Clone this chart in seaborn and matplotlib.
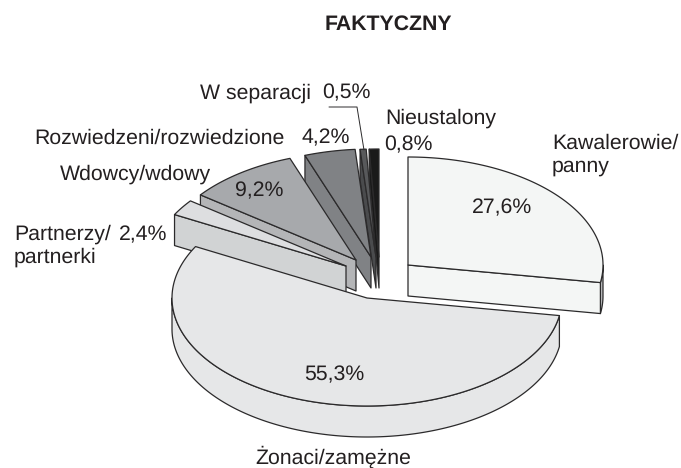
import numpy as np
import matplotlib
matplotlib.use("Agg")
import matplotlib.pyplot as plt
import seaborn as sns

# Data
categories = ["Kawalerowie/\npanny", "Żonaci/zamężne", "Partnerzy/\npartnerki",
              "Wdowcy/wdowy", "Rozwiedzeni/rozwiedzione", "W separacji", "Nieustalony"]
values = [27.6, 55.3, 2.4, 9.2, 4.2, 0.5, 0.8]
title = "FAKTYCZNY"

# Style and layout (pixel space of the 681x468 figure)
top_colors = ["#F4F6F5", "#E6E7E8", "#DDDEE0", "#A7A9AC", "#808285", "#58595B", "#1A1A1A"]
wall_colors = ["#F4F6F5", "#E6E7E8", "#D1D3D4", "#B4B5B7", "#808285", "#4A4B4D", "#1A1A1A"]
rim_colors = ["#BCBEC0", "#E6E7E8", "#D1D3D4", "#B4B5B7", "#808285", "#58595B", "#1A1A1A"]
apex = [(408, 265), (367, 298), (346, 266), (356, 260), (371, 257), (376, 257), (379, 257)]
RX, RY, DEPTH = 195, 108, 31
draw_order = [0, 6, 5, 4, 3, 2, 1]
EDGE = "#2B2A2B"
TXT = "#231F20"
FS = 15.3

sns.set_theme(style="white")
plt.rcParams["font.family"] = ["Liberation Sans", "DejaVu Sans"]
plt.rcParams["text.hinting"] = "no_hinting"

fig = plt.figure(figsize=(6.81, 4.68), dpi=100, facecolor="white")
ax = fig.add_axes([0, 0, 1, 1])
ax.set_xlim(0, 681)
ax.set_ylim(468, 0)
ax.axis("off")
sns.despine(ax=ax, left=True, bottom=True)

bounds = np.concatenate([[0], np.cumsum(values)]) / sum(values) * 360


def rim_point(c, deg):
    t = np.radians(deg)
    return c[0] + RX * np.sin(t), c[1] - RY * np.cos(t)


def arc(c, a, b, dy=0.0):
    t = np.radians(np.linspace(a, b, max(int(abs(b - a) * 2), 2)))
    return c[0] + RX * np.sin(t), c[1] - RY * np.cos(t) + dy


def face(xs, ys, color, z):
    ax.fill(xs, ys, facecolor=color, edgecolor=EDGE, linewidth=0.9, joinstyle="round", zorder=z)


for rank, i in enumerate(draw_order):
    c = apex[i]
    s, e = bounds[i], bounds[i + 1]
    z = 2 + rank
    # outer rim, only the part that faces the viewer
    lo, hi = max(s, 90), min(e, 270)
    if lo < hi:
        x1, y1 = arc(c, lo, hi)
        x2, y2 = arc(c, hi, lo, DEPTH)
        face(np.r_[x1, x2], np.r_[y1, y2], rim_colors[i], z)
    # visible cut faces
    for ang, vis in ((s, 180 < s < 360), (e, 0 < e < 180)):
        if vis:
            px, py = rim_point(c, ang)
            face([c[0], px, px, c[0]], [c[1], py, py + DEPTH, c[1] + DEPTH], wall_colors[i], z)
    # top surface
    x1, y1 = arc(c, s, e)
    face(np.r_[c[0], x1], np.r_[c[1], y1], top_colors[i], z)

pct = [f"{v:.1f}%".replace(".", ",") for v in values]
tk = dict(color=TXT, fontsize=FS, zorder=30, va="center")

ax.text(388, 24, title, color=TXT, fontsize=15.3, fontweight="bold", ha="center", va="center", zorder=30)
ax.text(552, 155, categories[0], linespacing=1.2, ha="left", **tk)
ax.text(502, 208, pct[0], ha="center", **tk)
ax.text(334, 375, pct[1], ha="center", **tk)
ax.text(333, 457, categories[1], ha="center", **tk)
ax.text(14, 246, categories[2], linespacing=1.2, ha="left", **tk)
ax.text(119, 235, pct[2], ha="left", **tk)
ax.text(60, 174, categories[3], ha="left", **tk)
ax.text(259, 191, pct[3], ha="center", **tk)
ax.text(34, 138, categories[4], ha="left", **tk)
ax.text(302, 138, pct[4], ha="left", **tk)
ax.text(200, 93, categories[5], ha="left", **tk)
ax.text(322, 93, pct[5], ha="left", **tk)
ax.text(385, 118, categories[6], ha="left", **tk)
ax.text(384, 145, pct[6], ha="left", **tk)
ax.plot([329, 357, 364], [107, 107, 150], color=EDGE, lw=0.7, zorder=29)

fig.savefig("out.png", dpi=100, facecolor="white")
